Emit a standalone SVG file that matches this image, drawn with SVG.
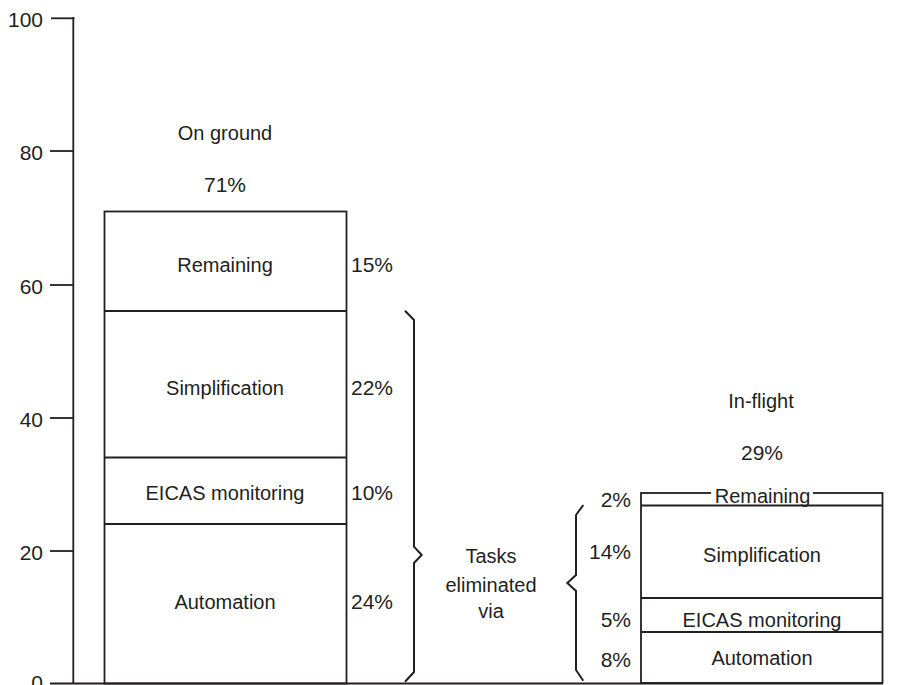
<svg xmlns="http://www.w3.org/2000/svg" width="902" height="685" viewBox="0 0 902 685">
<style>
text{font-family:"Liberation Sans",Arial,sans-serif;font-size:20px;fill:#231f20}
.c{text-anchor:middle}
.r{text-anchor:end}
.n{font-size:21px}
.ln{stroke:#231f20;stroke-width:1.8;fill:none}
.br{stroke:#231f20;stroke-width:2;fill:none;stroke-linejoin:miter}
</style>
<rect width="902" height="685" fill="#fff"/>
<g id="axis">
<line class="ln" x1="73.3" y1="17" x2="73.3" y2="684" stroke-width="2.2"/>
<line class="ln" x1="51" y1="18.3" x2="74.4" y2="18.3" stroke-width="3"/>
<line class="ln" x1="50" y1="151" x2="73" y2="151"/>
<line class="ln" x1="50" y1="285" x2="73" y2="285"/>
<line class="ln" x1="50" y1="418" x2="73" y2="418"/>
<line class="ln" x1="50" y1="551" x2="73" y2="551"/>
<line class="ln" x1="50" y1="683.5" x2="883" y2="683.5" stroke-width="3"/>
<text class="r n" x="43" y="27">100</text>
<text class="r n" x="43" y="160">80</text>
<text class="r n" x="43" y="294">60</text>
<text class="r n" x="43" y="427">40</text>
<text class="r n" x="43" y="560">20</text>
<text class="r n" x="43" y="690">0</text>
</g>
<g id="on-ground">
<text class="c" x="225" y="140">On ground</text>
<text class="c n" x="225" y="192">71%</text>
<rect class="ln" x="104.5" y="211.5" width="242" height="472"/>
<line class="ln" x1="104" y1="311" x2="347" y2="311"/>
<line class="ln" x1="104" y1="457.5" x2="347" y2="457.5"/>
<line class="ln" x1="104" y1="524" x2="347" y2="524"/>
<text class="c" x="225" y="272">Remaining</text>
<text class="c" x="225" y="395">Simplification</text>
<text class="c" x="225" y="500">EICAS monitoring</text>
<text class="c" x="225" y="609">Automation</text>
<text class="n" x="351" y="272">15%</text>
<text class="n" x="351" y="395">22%</text>
<text class="n" x="351" y="500">10%</text>
<text class="n" x="351" y="609">24%</text>
</g>
<g id="in-flight">
<text class="c" x="761" y="408">In-flight</text>
<text class="c n" x="762" y="460">29%</text>
<rect class="ln" x="641" y="493" width="241.5" height="190"/>
<rect x="711" y="488" width="102" height="10" fill="#fff"/>
<line class="ln" x1="641" y1="505.5" x2="883" y2="505.5"/>
<line class="ln" x1="641" y1="598" x2="883" y2="598"/>
<line class="ln" x1="641" y1="632" x2="883" y2="632"/>
<text class="c" x="762.5" y="502.5">Remaining</text>
<text class="c" x="762" y="561.5">Simplification</text>
<text class="c" x="762" y="626.5">EICAS monitoring</text>
<text class="c" x="762" y="665">Automation</text>
<text class="r n" x="631" y="506.5">2%</text>
<text class="r n" x="631" y="559">14%</text>
<text class="r n" x="631" y="626.5">5%</text>
<text class="r n" x="631" y="666.5">8%</text>
</g>
<g id="connectors">
<path class="br" d="M405,310.7 L414,320 L414,546.7 L421.7,555 L414,563 L414,672 L405,681.7"/>
<path class="br" d="M583.3,505 L576,515 L576,575 L567.3,583 L576,591 L576,670 L583.3,680.7"/>
</g>
<g id="label-tasks">
<text class="c" x="491" y="563">Tasks</text>
<text class="c" x="491" y="591.5">eliminated</text>
<text class="c" x="491" y="617.5">via</text>
</g>
</svg>
